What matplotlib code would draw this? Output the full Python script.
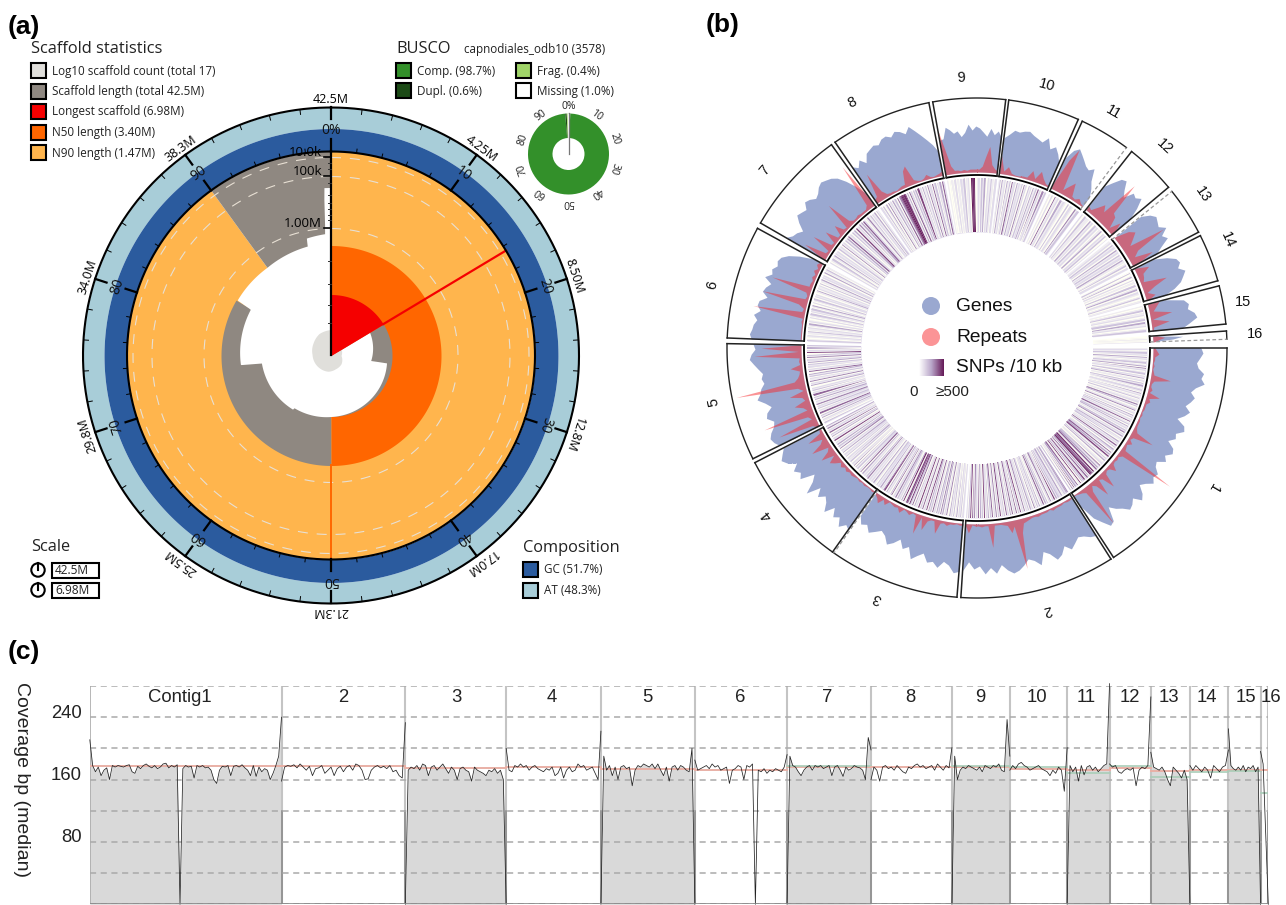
import matplotlib
matplotlib.use('Agg')
import matplotlib.pyplot as plt
import numpy as np
from matplotlib.patches import Rectangle, Circle
from matplotlib.colors import LinearSegmentedColormap

W, H = 1286, 905
SANS = 'Open Sans'
ARIAL = 'Liberation Sans'

# ---- panel a: snail plot
legend_labels = ['Log10 scaffold count (total 17)', 'Scaffold length (total 42.5M)', 'Longest scaffold (6.98M)',
                 'N50 length (3.40M)', 'N90 length (1.47M)']
legend_colors = ['#e0dfdb', '#8f8881', '#f50000', '#ff6600', '#ffb54d']
longest_pct = 16.4
n50_pct = 50
n90_pct = 90
gray_end_pct = 83.4
longest_r = 61
n50_r = 110
full_r = 204
gc_r = 227
at_r = 248
# white hole edge: percent round the circle, radius in plot units
hole_pct = [16.4, 27.0, 27.1, 36.0, 50.0, 59.8, 59.9, 66.4, 73.3, 73.4, 78.3, 83.3, 83.5, 90.0, 96.6, 96.7, 99.2, 99.3, 100]
hole_r = [45, 40, 56, 58, 61, 64, 66, 68, 70, 91, 92, 93, 109, 109, 112, 120, 122, 168, 168]
count_pct = [16.4, 25, 36, 45, 53, 62, 76, 85, 92, 100]
count_r = [12, 10, 13, 14, 16, 17, 19, 22, 25, 26]
grid_r = [127, 179, 198]
axis_labels = ['1.00M', '100k', '10.0k']
axis_minor_r = [32, 50, 71, 94, 135, 140, 146, 152, 160, 172, 186, 192]
outer_labels = ['42.5M', '4.25M', '8.50M', '12.8M', '17.0M', '21.3M', '25.5M', '29.8M', '34.0M', '38.3M']
pct_labels = ['0%', '10', '20', '30', '40', '50', '60', '70', '80', '90']

busco_pct = [98.7, 0.6, 0.4, 1.0]
busco_colors = ['#33902a', '#1c4a16', '#a0d468', '#ffffff']
busco_legend = [('Comp. (98.7%)', '#33902a'), ('Dupl. (0.6%)', '#1c4a16'), ('Frag. (0.4%)', '#a0d468'), ('Missing (1.0%)', '#ffffff')]
comp_legend = [('GC (51.7%)', '#2b5b9e'), ('AT (48.3%)', '#a8cdd8')]

# ---- panel b: one entry per sequence
sec_names = ['1', '2', '3', '4', '5', '6', '7', '8', '9', '10', '11', '12', '13', '14', '15', '16']
sec_start = [90, 147.6, 184.6, 215.3, 243.7, 272.3, 300, 325.4, 349.8, 367.3, 384.9, 398.2, 411.2, 423.3, 435.6, 446.1]
sec_end = [146.9, 183.7, 214.9, 242.7, 271, 298.6, 324.4, 348.9, 366.6, 383.9, 396.7, 410, 422.4, 434.4, 444.5, 448]
label_angle = [120.5, 165, 201.8, 231.5, 258.4, 283.4, 310, 333, 356.6, 14.9, 30, 43, 55.9, 66.7, 80.2, 87.1]
label_r = [274, 271, 269, 268, 269, 272, 277, 275, 271, 272, 272, 275, 273, 273, 270, 278]
genes_1 = [48, 50, 47, 44, 46, 52, 50, 54, 46, 42, 47, 44, 40, 46, 42, 36, 45, 47, 40, 42, 36, 44, 46, 40, 44, 36, 38, 44,
           42, 46, 40, 36, 44, 48, 40, 44, 46, 40, 36, 30, 44, 46, 38, 30, 12]
genes_2 = [46, 44, 40, 38, 42, 46, 40, 47, 50, 42, 38, 50, 44, 41, 46, 50, 52, 48, 42, 50, 44, 50, 42, 45, 38, 47]
genes_3 = [48, 50, 43, 40, 47, 42, 44, 36, 40, 45, 34, 38, 30, 36, 40, 33, 30, 34, 38, 32, 35, 28]
genes_4 = [47, 44, 50, 42, 46, 38, 48, 40, 36, 42, 34, 48, 36, 30, 44, 40, 45, 38, 46, 50, 46, 42]
genes_5 = [44, 48, 50, 47, 42, 40, 46, 44, 38, 43, 50, 46, 44, 40, 42, 40, 44, 48, 52, 50, 46, 48]
genes_6 = [50, 52, 50, 49, 46, 50, 44, 48, 47, 40, 46, 44, 40, 48, 42, 44, 40, 42, 40, 34, 24, 10]
genes_7 = [45, 40, 38, 34, 42, 48, 46, 44, 50, 48, 44, 46, 50, 52, 50, 48, 44, 36, 26, 14]
genes_8 = [44, 40, 46, 40, 48, 50, 52, 50, 54, 55, 52, 56, 54, 50, 56, 50, 44, 38, 32, 24]
genes_9 = [35, 36, 47, 44, 40, 42, 36, 40, 48, 42, 46, 44, 40, 36, 44, 38, 42, 36]
genes_10 = [36, 40, 45, 44, 46, 47, 44, 42, 40, 46, 36, 40, 34, 26]
genes_11 = [34, 44, 48, 44, 40, 36, 34, 38, 26, 20, 12]
genes_12 = [30, 38, 46, 48, 40, 34, 44, 42, 46, 36, 22]
genes_13 = [34, 42, 46, 44, 42, 48, 40, 44, 34, 26]
genes_14 = [22, 34, 42, 44, 40, 46, 42, 38, 30, 18]
genes_15 = [18, 36, 40, 38, 44, 46, 38, 30]
genes_16 = [2, 30, 20, 0]
repeats_1 = [2, 4, 6, 2, 2, 1, 2, 1, 2, 3, 20, 4, 2, 2, 4, 2, 13, 3, 5, 2, 2, 2, 1, 2, 1, 2, 2, 2, 3, 5, 24, 4, 2, 6, 2, 3,
             4, 61, 5, 2, 3, 2, 3, 9, 3, 2, 4, 18, 5, 3, 20, 6, 3, 8, 46, 5, 3, 2, 1, 1]
repeats_2 = [1, 2, 2, 1, 2, 2, 2, 3, 1, 2, 2, 2, 3, 2, 2, 3, 4, 5, 14, 50, 6, 12, 4, 3, 2, 2, 2, 24, 2, 2, 3, 2, 2, 1, 9, 2]
repeats_3 = [2, 2, 1, 2, 2, 4, 2, 3, 14, 2, 2, 4, 14, 2, 20, 2, 1, 4, 2, 1, 6, 2, 3, 2, 1, 6, 2, 8, 4, 2]
repeats_4 = [1, 2, 1, 1, 2, 1, 2, 1, 2, 3, 2, 4, 2, 5, 2, 7, 11, 3, 16, 6, 3, 20, 8, 4, 18, 3, 2]
repeats_5 = [2, 6, 41, 4, 7, 52, 5, 8, 16, 4, 6, 18, 3, 8, 70, 10, 6, 4, 3, 12, 2, 3, 2, 47, 3, 40, 2]
repeats_6 = [1, 1, 1, 1, 1, 1, 2, 1, 52, 3, 2, 8, 46, 3, 2, 4, 41, 3, 3, 2, 4, 2, 5, 2, 5, 3]
repeats_7 = [2, 25, 3, 2, 22, 3, 2, 15, 2, 2, 12, 3, 2, 30, 5, 2, 2, 3, 2, 2, 2, 5, 50, 3]
repeats_8 = [4, 6, 30, 8, 3, 2, 2, 1, 2, 3, 3, 16, 20, 4, 2, 1, 2, 5, 2, 1, 2, 3, 5]
repeats_9 = [45, 25, 8, 3, 3, 2, 3, 2, 3, 3, 3, 3, 6, 16, 26, 8, 4, 2]
repeats_10 = [18, 3, 8, 2, 1, 1, 2, 2, 10, 3, 12, 6, 2, 1]
repeats_11 = [6, 33, 47, 4, 10, 16, 3, 2, 5, 2, 1]
repeats_12 = [5, 3, 9, 16, 10, 50, 16, 14, 3, 14, 3]
repeats_13 = [2, 15, 20, 14, 8, 45, 12, 6, 24, 5]
repeats_14 = [2, 14, 6, 5, 3, 26, 12, 3, 10, 2]
repeats_15 = [12, 8, 4, 22, 2, 18, 2, 1]
repeats_16 = [4, 12, 6, 2]
genes_all = [genes_1, genes_2, genes_3, genes_4, genes_5, genes_6, genes_7, genes_8, genes_9, genes_10, genes_11,
             genes_12, genes_13, genes_14, genes_15, genes_16]
repeats_all = [repeats_1, repeats_2, repeats_3, repeats_4, repeats_5, repeats_6, repeats_7, repeats_8, repeats_9,
               repeats_10, repeats_11, repeats_12, repeats_13, repeats_14, repeats_15, repeats_16]
# SNP density per bin, one digit a bin, 0 = none, 9 = 500 or more
snps_1 = ('120131204120130140512013021401203141023104120130120513012501204130216013041203150214021304120'
          '61304120614072031406120731406208167814062073140810624081503')
snps_2 = ('5402310412031407120512031406120413021502140312051207130612061402160312071305120613041207031406'
          '120516071302')
snps_3 = '203120410302140512041503140216031407120613070214061381672081402130512061302140751204'
snps_4 = '21301402120513021406120314051203141203120412051304120712041306120514'
snps_5 = '30120413061203120512041306120312041205120314061202130412051307120413'
snps_6 = '3101201301201402102013021301402013021201402120301402120401301'
snps_7 = '201301402120312051203140612031407120514062015130214031'
snps_8 = '2030140512041306157898714062031407120413051206130214062'
snps_9 = '100102010213012098901203140213102'
snps_10 = '1304120413061204121305120312041306120513'
snps_11 = '102061204121030210513'
snps_12 = '203110412031201402130'
snps_13 = '1203120412031204101302'
snps_14 = '0301402010301402101301'
snps_15 = '10130120130412013'
snps_16 = '00100'
snps_all = [snps_1, snps_2, snps_3, snps_4, snps_5, snps_6, snps_7, snps_8, snps_9, snps_10, snps_11, snps_12, snps_13,
            snps_14, snps_15, snps_16]
label_rot_free = ['15', '16']

# ---- panel c: coverage, contig sizes in Mb
contig_sizes = [6.92, 4.47, 3.64, 3.42, 3.39, 3.33, 3.03, 2.92, 2.09, 2.07, 1.53, 1.49, 1.41, 1.39, 1.16, 0.28]
contig_names = ['Contig1', '2', '3', '4', '5', '6', '7', '8', '9', '10', '11', '12', '13', '14', '15', '16']
contig_shaded = [1, 0, 1, 0, 1, 0, 1, 0, 1, 0, 1, 0, 1, 0, 1, 0]
cov_1 = [211, 178, 170, 176, 165, 172, 175, 160, 178, 176, 178, 177, 176, 178, 179, 170, 168, 177, 174, 178, 180, 177, 175,
         178, 174, 176, 180, 181, 175, 178, 176, 179, 0, 174, 178, 176, 177, 162, 178, 176, 178, 175, 176, 172, 160, 155,
         172, 177, 176, 178, 165, 177, 178, 176, 179, 175, 172, 165, 178, 164, 176, 170, 174, 172, 160, 168, 178, 190, 240]
cov_2 = [158, 176, 178, 177, 179, 175, 180, 176, 172, 177, 165, 174, 175, 178, 168, 172, 176, 165, 174, 177, 170, 176, 178,
         172, 180, 178, 172, 160, 161, 172, 176, 178, 175, 177, 174, 178, 170, 172, 165, 162, 233]
cov_3 = [0, 172, 176, 174, 178, 172, 180, 178, 165, 176, 178, 172, 176, 180, 174, 168, 176, 172, 160, 174, 176, 172, 170,
         158, 176, 172, 170, 168, 165, 172, 170, 174, 168, 172, 160, 0]
cov_4 = [200, 172, 170, 178, 176, 180, 176, 178, 172, 176, 178, 174, 172, 170, 174, 172, 176, 165, 168, 176, 162, 172, 176,
         170, 172, 180, 176, 178, 172, 174, 176, 168, 160, 222]
cov_5 = [0, 190, 172, 178, 165, 176, 160, 176, 178, 174, 176, 152, 172, 178, 176, 180, 178, 176, 180, 174, 180, 172, 165,
         176, 158, 176, 178, 172, 178, 176, 172, 170, 200, 0]
cov_6 = [185, 172, 174, 176, 178, 174, 180, 176, 178, 172, 174, 176, 155, 172, 174, 178, 176, 160, 178, 176, 180, 0, 172,
         170, 174, 168, 172, 170, 174, 172, 170, 176, 192]
cov_7 = [0, 190, 178, 176, 170, 165, 172, 176, 178, 172, 178, 176, 178, 174, 176, 178, 165, 176, 178, 172, 164, 176, 172,
         174, 178, 176, 175, 172, 160, 214, 198]
cov_8 = [160, 176, 172, 158, 176, 178, 174, 176, 172, 178, 174, 170, 168, 176, 174, 178, 180, 176, 178, 174, 176, 178, 172,
         180, 176, 172, 178, 175, 201]
cov_9 = [0, 190, 160, 172, 176, 174, 178, 176, 174, 172, 176, 170, 178, 176, 174, 178, 176, 180, 172, 170, 237, 190]
cov_10 = [172, 178, 174, 180, 182, 178, 176, 172, 174, 176, 178, 174, 172, 170, 165, 172, 168, 176, 172, 145, 201]
cov_11 = [0, 178, 170, 176, 158, 178, 166, 176, 178, 172, 176, 170, 174, 178, 180, 283]
cov_12 = [180, 176, 178, 170, 168, 172, 174, 172, 175, 152, 172, 176, 174, 178, 266]
cov_13 = [195, 176, 174, 172, 176, 170, 160, 152, 176, 172, 168, 162, 172, 160, 0]
cov_14 = [178, 172, 178, 174, 170, 176, 172, 162, 178, 174, 170, 176, 178, 198]
cov_15 = [225, 178, 174, 172, 176, 172, 178, 170, 176, 174, 178, 170, 176, 0]
cov_16 = [196, 180, 90, 0]
cov_all = [cov_1, cov_2, cov_3, cov_4, cov_5, cov_6, cov_7, cov_8, cov_9, cov_10, cov_11, cov_12, cov_13, cov_14, cov_15, cov_16]
red_line = [177, 177, 175, 176, 174, 172, 176, 176, 176, 174, 172, 175, 171, 172, 172, 172]
green_line = [None, None, None, None, None, None, 178, None, 177, 176, 168, 177, 163, 170, 171, 143]
cov_ticks = [0, 40, 80, 120, 160, 200, 240, 280]
cov_labels = [240, 160, 80]

plt.rcParams['font.family'] = [SANS, 'DejaVu Sans']
fig = plt.figure(figsize=(W / 100, H / 100), dpi=100)


def polar_at(cx, cy, radius):
    ax = fig.add_axes([(cx - radius) / W, 1 - (cy + radius) / H, 2 * radius / W, 2 * radius / H], projection='polar')
    ax.set_theta_zero_location('N')
    ax.set_theta_direction(-1)
    ax.set_rlim(0, radius)
    ax.set_axis_off()
    return ax


def pct(p):
    return np.deg2rad(np.asarray(p, dtype=float) * 3.6)


def span(p0, p1, n=200):
    return np.linspace(pct(p0), pct(p1), n)


# ---- overlay in pixels for legends and text
ov = fig.add_axes([0, 0, 1, 1], zorder=10)
ov.set_xlim(0, W)
ov.set_ylim(H, 0)
ov.axis('off')
ov.patch.set_alpha(0)


def swatch(x, y, c, txt, size=8.4):
    ov.add_patch(Rectangle((x, y - 7.5), 15, 15, fc=c, ec='black', lw=1.5))
    ov.text(x + 21, y, txt, fontsize=size, va='center', color='#222222')


for letter, x, y in [('(a)', 8, 27), ('(b)', 706, 25), ('(c)', 8, 652)]:
    ov.text(x, y, letter, fontsize=19, fontweight='bold', family=ARIAL, va='center')

ov.text(31, 49, 'Scaffold statistics', fontsize=11.8, va='center', color='#222222')
for i in range(5):
    swatch(31, 71 + i * 20.5, legend_colors[i], legend_labels[i])
ov.text(396, 49, 'BUSCO', fontsize=11.8, va='center', color='#222222')
ov.text(464, 50, 'capnodiales_odb10 (3578)', fontsize=8.4, va='center', color='#222222')
swatch(396, 71, busco_legend[0][1], busco_legend[0][0])
swatch(396, 91, busco_legend[1][1], busco_legend[1][0])
swatch(516, 71, busco_legend[2][1], busco_legend[2][0])
swatch(516, 91, busco_legend[3][1], busco_legend[3][0])
ov.text(523, 548, 'Composition', fontsize=11.8, va='center', color='#222222')
swatch(523, 569, comp_legend[0][1], comp_legend[0][0])
swatch(523, 590, comp_legend[1][1], comp_legend[1][0])
ov.text(31, 547, 'Scale', fontsize=11.8, va='center', color='#222222')
for y, txt in [(570, outer_labels[0]), (590, '6.98M')]:
    ov.add_patch(Circle((38, y), 6.7, fc='white', ec='black', lw=1.5))
    ov.plot([38, 38], [y, y - 6.7], color='black', lw=1.5)
    ov.add_patch(Rectangle((52, y - 7.5), 47, 15, fc='white', ec='black', lw=1.5))
    ov.text(55, y, txt, fontsize=8.6, va='center', color='#222222')

# ---- panel a
CX, CY = 331, 355.5
a = polar_at(CX, CY, 290)
full = np.linspace(0, 2 * np.pi, 400)
a.fill_between(full, gc_r, at_r, color=comp_legend[1][1], lw=0)
a.fill_between(full, full_r, gc_r, color=comp_legend[0][1], lw=0)
a.fill_between(span(0, n90_pct), 0, full_r, color=legend_colors[4], lw=0)
a.fill_between(span(n90_pct, 100), 0, full_r, color=legend_colors[1], lw=0)
a.fill_between(span(n50_pct, gray_end_pct), 0, n50_r, color=legend_colors[1], lw=0)
a.fill_between(span(0, n50_pct), 0, n50_r, color=legend_colors[3], lw=0)
a.fill_between(span(longest_pct, n50_pct), 0, longest_r, color=legend_colors[1], lw=0)
# hole edge and count curve, resampled only so the chords follow the circle
fine = np.linspace(hole_pct[0], hole_pct[-1], 1500)
a.fill_between(pct(fine), 0, np.interp(fine, hole_pct, hole_r), color='white', lw=0)
fine = np.linspace(count_pct[0], count_pct[-1], 400)
a.fill_between(pct(fine), 0, np.interp(fine, count_pct, count_r), color=legend_colors[0], lw=0)
a.fill_between(span(0, longest_pct), 0, longest_r, color=legend_colors[2], lw=0)
for r in grid_r:
    a.plot(full, np.full_like(full, r), color='#e8e0d4', lw=0.8, ls=(0, (9, 8)))
a.plot([pct(longest_pct)] * 2, [longest_r, full_r], color=legend_colors[2], lw=1.6)
a.plot([pct(n50_pct)] * 2, [n50_r, full_r], color=legend_colors[3], lw=1.4)
a.plot(full, np.full_like(full, at_r), color='black', lw=1.5)
a.plot(full, np.full_like(full, full_r), color='black', lw=1.5)
a.plot([0, 0], [0, full_r], color='black', lw=1.6)
for i in range(50):
    t = pct(i * 2)
    major = i % 5 == 0
    a.plot([t, t], [full_r, full_r + (12 if major else 4)], color='black', lw=1.6 if major else 0.7)
    a.plot([t, t], [at_r, at_r - (12 if major else 5)], color='black', lw=1.6 if major else 0.7)
for i in range(10):
    deg = i * 36
    a.text(np.deg2rad(deg), 256, outer_labels[i], fontsize=9, ha='center', va='center', rotation=-deg, rotation_mode='anchor')
    a.text(np.deg2rad(deg), 225, pct_labels[i], fontsize=10, ha='center', va='center', rotation=-deg, rotation_mode='anchor', color='#111111')
for r, txt in zip(grid_r, axis_labels):
    ov.plot([CX - 7, CX], [CY - r, CY - r], color='black', lw=1.2)
    ov.text(CX - 9, CY - r - 5, txt, fontsize=9.5, ha='right', va='center')
for r in axis_minor_r:
    ov.plot([CX - 3.5, CX], [CY - r, CY - r], color='#333333', lw=0.7)

# ---- BUSCO ring
bx = polar_at(568.5, 154, 60)
left = 0
for p, c in zip(busco_pct, busco_colors):
    bx.bar(pct(left + p / 2), 24.5, width=pct(p), bottom=16, color=c, lw=0)
    left += p
bx.plot([0, 0], [0, 40.5], color='#777777', lw=0.9)
for i in range(10):
    deg = i * 36
    bx.text(np.deg2rad(deg), 48, pct_labels[i], fontsize=7.5, ha='center', va='center', rotation=-deg, rotation_mode='anchor', color='#222222')

# ---- panel b
b = polar_at(977, 348, 290)
R_IN, R_OUT, R_BASE = 173, 250, 176
snp_cmap = LinearSegmentedColormap.from_list('snp', ['#fffff4', '#e4dfee', '#c3b5d4', '#9a78a8', '#7d3f7a', '#651a58'])
dash_start = ['13']
dash_end = ['3', '11', '16']
for i, name in enumerate(sec_names):
    t0, t1 = np.deg2rad(sec_start[i]), np.deg2rad(sec_end[i])
    arc = np.linspace(t0, t1, 80)
    b.plot(arc, np.full_like(arc, R_OUT), color='#222222', lw=1)
    b.plot(arc, np.full_like(arc, R_IN), color='black', lw=1.3)
    if name in dash_start:
        b.plot([t0, t0], [R_IN, R_OUT], color='#999999', lw=0.9, ls=(0, (3, 2)))
    else:
        b.plot([t0, t0], [R_IN, R_OUT], color='#222222', lw=1.1)
    if name in dash_end:
        b.plot([t1, t1], [R_IN, R_OUT], color='#999999', lw=0.9, ls=(0, (3, 2)))
    else:
        b.plot([t1, t1], [R_IN, R_OUT], color='#222222', lw=1.1)
    th = np.linspace(t0, t1, len(genes_all[i]))
    b.fill_between(th, R_BASE, R_BASE + np.array(genes_all[i]), color='#9aa8d0', lw=0)
    th = np.linspace(t0, t1, len(repeats_all[i]))
    b.fill_between(th, R_BASE, R_BASE + np.array(repeats_all[i]), color='#f7292d', alpha=0.5, lw=0)
    # pale ring under the bins so the seams between them do not show white
    b.fill_between(arc, 116, 170, color='#e6e1ee', lw=0)
    vals = np.array([int(ch) for ch in snps_all[i]], dtype=float)
    edges = np.linspace(t0, t1, len(vals) + 1)
    b.pcolormesh(edges, [116, 170], vals[None, :], cmap=snp_cmap, vmin=0, vmax=9, shading='flat', lw=0, antialiased=True)
    rot = 0 if name in label_rot_free else -label_angle[i]
    b.text(np.deg2rad(label_angle[i]), label_r[i], name, fontsize=10.5, family=ARIAL, ha='center', va='center', rotation=rot, rotation_mode='anchor', color='#111111')

ov.add_patch(Circle((931, 306), 9, fc='#9aa8d0', ec='none'))
ov.add_patch(Circle((931, 337), 9, fc='#fb9496', ec='none'))
ov.imshow(np.linspace(0, 1, 64)[None, :], extent=(919, 944, 376, 359), cmap=LinearSegmentedColormap.from_list('k', ['#ffffff', '#b9a6c9', '#651a58']), aspect='auto', zorder=2)
ov.set_xlim(0, W)
ov.set_ylim(H, 0)
for y, txt in [(306, 'Genes'), (337, 'Repeats'), (367, 'SNPs /10 kb')]:
    ov.text(956, y, txt, fontsize=13.8, family=ARIAL, va='center', color='#111111')
ov.text(914, 392, '0', fontsize=11, family=ARIAL, ha='center', va='center', color='#222222')
ov.text(952, 392, '\u2265500', fontsize=11, family=ARIAL, ha='center', va='center', color='#222222')

# ---- panel c
c = fig.add_axes([89.8 / W, 1 - 904.3 / H, (1268.3 - 89.8) / W, (904.3 - 686) / H])
c.set_xlim(0, sum(contig_sizes))
c.set_ylim(0, 280)
c.axis('off')
left = 0
for i, size in enumerate(contig_sizes):
    xs = np.linspace(left, left + size, len(cov_all[i]))
    if contig_shaded[i]:
        c.fill_between(xs, 0, cov_all[i], color='#d9d9d9', lw=0, zorder=1)
    c.plot([left, left + size], [red_line[i]] * 2, color='#e9b0a6', lw=1.4, zorder=3)
    if green_line[i] is not None:
        c.plot([left, left + size], [green_line[i]] * 2, color='#a9cdb8', lw=1.2, zorder=3)
    c.plot(xs, cov_all[i], color='#222222', lw=0.55, zorder=4, clip_on=False)
    c.plot([left + size] * 2, [0, 280], color='#c4c4c4', lw=1.5, zorder=2)
    c.plot([left + size] * 2, [0, 120], color='#888888', lw=1.1, zorder=2)
    left += size
for v in cov_ticks:
    c.plot([0, sum(contig_sizes)], [v, v], color='#aaaaaa', lw=1.1, ls=(0, (4, 3)), zorder=2)
c.plot([0, sum(contig_sizes)], [0, 0], color='#888888', lw=1.2, zorder=5)
c.plot([0, 0], [0, 280], color='#aaaaaa', lw=1.2, zorder=2)

contig_label_x = [180, 343, 456, 552, 647, 740, 827, 910, 980, 1037, 1086, 1130, 1169, 1207, 1246, 1271]
for x, name in zip(contig_label_x, contig_names):
    ov.text(x, 697, name, fontsize=13.3, family=ARIAL, ha='center', va='center', color='#222222')
for v in cov_labels:
    ov.text(82, 904.3 - v * 0.78 - 4, str(v), fontsize=13.3, family=ARIAL, ha='right', va='center', color='#222222')
ov.text(21, 779, 'Coverage bp (median)', fontsize=14, family=ARIAL, rotation=270, ha='center', va='center', color='#222222')

fig.savefig('out.png', dpi=100)
